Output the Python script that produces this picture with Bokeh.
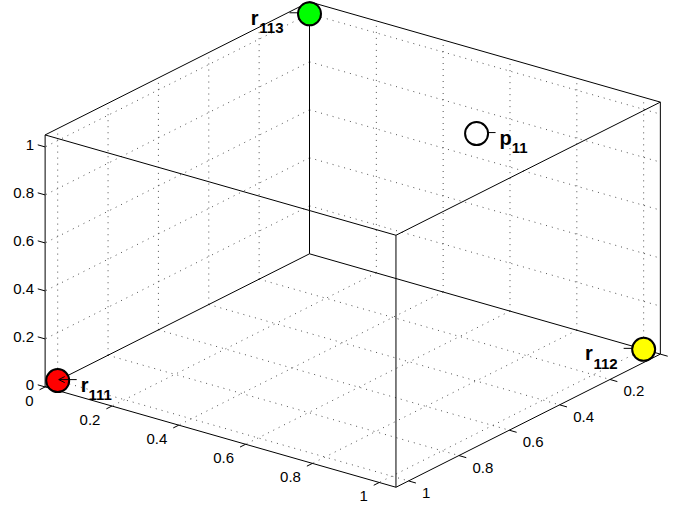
import itertools
import numpy as np
from bokeh.plotting import figure
from bokeh.models import Range1d, Arrow, OpenHead
from bokeh.embed import file_html
from bokeh.resources import INLINE
from bokeh.core.properties import value

# ---------------- data ----------------
LIMITS = (0.0, 1.05)          # same limits on x, y and z

X_TICKS = [0.0, 0.2, 0.4, 0.6, 0.8, 1.0]
Y_TICKS = [0.0, 0.2, 0.4, 0.6, 0.8, 1.0]
Z_TICKS = [0.0, 0.2, 0.4, 0.6, 0.8, 1.0]
X_LABELED = [0.2, 0.4, 0.6, 0.8, 1.0]
X_TICK_LABELS = ["0.2", "0.4", "0.6", "0.8", "1"]
Y_TICK_LABELS = ["0", "0.2", "0.4", "0.6", "0.8", "1"]
Z_TICK_LABELS = ["0", "0.2", "0.4", "0.6", "0.8", "1"]

PT_NAME = ["r", "r", "r", "p"]
PT_SUB = ["111", "112", "113", "11"]
PT_X = [1.0, 0.0, 0.0, 0.0]
PT_Y = [0.0, 1.0, 0.0, 0.5]
PT_Z = [0.0, 0.0, 1.0, 0.7]
PT_FILL = ["#ff0000", "#ffff00", "#00ff00", "#ffffff"]
PT_SIDE = ["right", "left", "left", "right"]   # side of the point the label sits on

# ---------------- view ----------------
W, H = 673, 506
AZ, EL = np.deg2rad(127.0), np.deg2rad(22.3)
SCALE = 418.4          # px per data unit (the canvas is drawn 1 unit = 1 px)
Z_ASPECT = 0.62        # vertical stretch of the plot box
ORIGIN_PX = (309.0, 253.3)   # canvas position of (0, 0, 0), y measured from top
TICK_LEN = 0.022

FONT = value("Liberation Sans")


def project(x, y, z):
    x, y, z = (np.asarray(v, dtype=float) for v in (x, y, z))
    sx = SCALE * (x * np.cos(AZ) + y * np.sin(AZ))
    sy = SCALE * ((-x * np.sin(AZ) + y * np.cos(AZ)) * np.sin(EL)
                  + Z_ASPECT * np.cos(EL) * z)
    return sx, sy


def project_segments(segs):
    xs, ys = [], []
    for a, b in segs:
        px, py = project(*zip(a, b))
        xs.append(list(px))
        ys.append(list(py))
    return xs, ys


p = figure(width=W, height=H,
           x_range=Range1d(-ORIGIN_PX[0], W - ORIGIN_PX[0]),
           y_range=Range1d(ORIGIN_PX[1] - H, ORIGIN_PX[1]),
           x_axis_location=None, y_axis_location=None,
           output_backend="svg", toolbar_location=None,
           min_border=0, outline_line_color=None,
           background_fill_color="white", border_fill_color="white")
p.xgrid.visible = False
p.ygrid.visible = False

lo, hi = LIMITS

# dotted grid on the floor and the two back walls
grid = []
for t in X_TICKS:
    if lo < t < hi:
        grid.append(((t, lo, lo), (t, hi, lo)))
        grid.append(((t, lo, lo), (t, lo, hi)))
for t in Y_TICKS:
    if lo < t < hi:
        grid.append(((lo, t, lo), (hi, t, lo)))
        grid.append(((lo, t, lo), (lo, t, hi)))
for t in Z_TICKS:
    if lo < t < hi:
        grid.append(((lo, lo, t), (hi, lo, t)))
        grid.append(((lo, lo, t), (lo, hi, t)))
gx, gy = project_segments(grid)
p.multi_line(gx, gy, line_color="#505050", line_width=1, line_dash="1 5")

# the twelve edges of the box
corners = list(itertools.product([lo, hi], repeat=3))
edges = [(a, b) for a, b in itertools.combinations(corners, 2)
         if sum(u != v for u, v in zip(a, b)) == 1]
ex, ey = project_segments(edges)
p.multi_line(ex, ey, line_color="black", line_width=1)

# tick marks
ticks = ([((t, hi, lo), (t, hi + TICK_LEN, lo)) for t in X_TICKS]
         + [((hi, t, lo), (hi + TICK_LEN, t, lo)) for t in Y_TICKS]
         + [((hi, lo, t), (hi, lo - TICK_LEN, t)) for t in Z_TICKS])
tx, ty = project_segments(ticks)
p.multi_line(tx, ty, line_color="black", line_width=1)

# tick labels
lab_style = dict(text_font=FONT, text_font_size="15px", text_color="black",
                 text_baseline="middle")
xx, xy = project(X_LABELED, [hi] * len(X_LABELED), [lo] * len(X_LABELED))
p.text(xx, xy, text=X_TICK_LABELS, text_align="left",
       x_offset=13.5, y_offset=12, **lab_style)
yx, yy = project([hi] * len(Y_TICKS), Y_TICKS, [lo] * len(Y_TICKS))
p.text(yx, yy, text=Y_TICK_LABELS, text_align="right",
       x_offset=-11.5, y_offset=14, **lab_style)
zx, zy = project([hi] * len(Z_TICKS), [lo] * len(Z_TICKS), Z_TICKS)
p.text(zx, zy, text=Z_TICK_LABELS, text_align="right",
       x_offset=-11, y_offset=-2, **lab_style)

# points and their labels
px, py = project(PT_X, PT_Y, PT_Z)
NAME_ADVANCE = {"r": 7.8, "p": 12.2}     # bold 20px glyph advance
SUB_DIGIT = 8.3                          # bold 15px digit advance
marker_style = dict(size=23, line_color="black", line_width=2)
ARROW_LEN = 18.0                         # canvas units == px

for i in range(len(PT_NAME)):
    # the label pointing at r111 is drawn over its marker, the others under theirs
    over = PT_SUB[i] == "111"
    if PT_SIDE[i] == "right":
        x0, x1 = px[i] + 1 + ARROW_LEN, px[i] + 1
    else:
        x0, x1 = px[i] - 2 - ARROW_LEN, px[i] - 1
    p.add_layout(Arrow(x_start=x0, y_start=py[i] + 1, x_end=x1, y_end=py[i] + 1,
                       line_width=1, line_color="black",
                       end=OpenHead(size=6, line_width=1, line_color="black"),
                       level="annotation" if over else "underlay"))

p.scatter(px, py, fill_color=PT_FILL, **marker_style)

name_style = dict(text_font=FONT, text_font_style="bold", text_color="black",
                  text_baseline="alphabetic")
for i in range(len(PT_NAME)):
    if PT_SIDE[i] == "right":
        p.text([px[i]], [py[i]], text=[PT_NAME[i]], text_font_size="20px",
               text_align="left", x_offset=23, y_offset=4, **name_style)
        p.text([px[i]], [py[i]], text=[PT_SUB[i]], text_font_size="15px",
               text_align="left", x_offset=23 + NAME_ADVANCE[PT_NAME[i]],
               y_offset=14.5, **name_style)
    else:
        p.text([px[i]], [py[i]], text=[PT_SUB[i]], text_font_size="15px",
               text_align="right", x_offset=-26, y_offset=14.5, **name_style)
        sub_w = SUB_DIGIT * len(PT_SUB[i])
        p.text([px[i]], [py[i]], text=[PT_NAME[i]], text_font_size="20px",
               text_align="right", x_offset=-26 - sub_w, y_offset=4, **name_style)

open("out.html", "w").write(file_html(p, INLINE))
